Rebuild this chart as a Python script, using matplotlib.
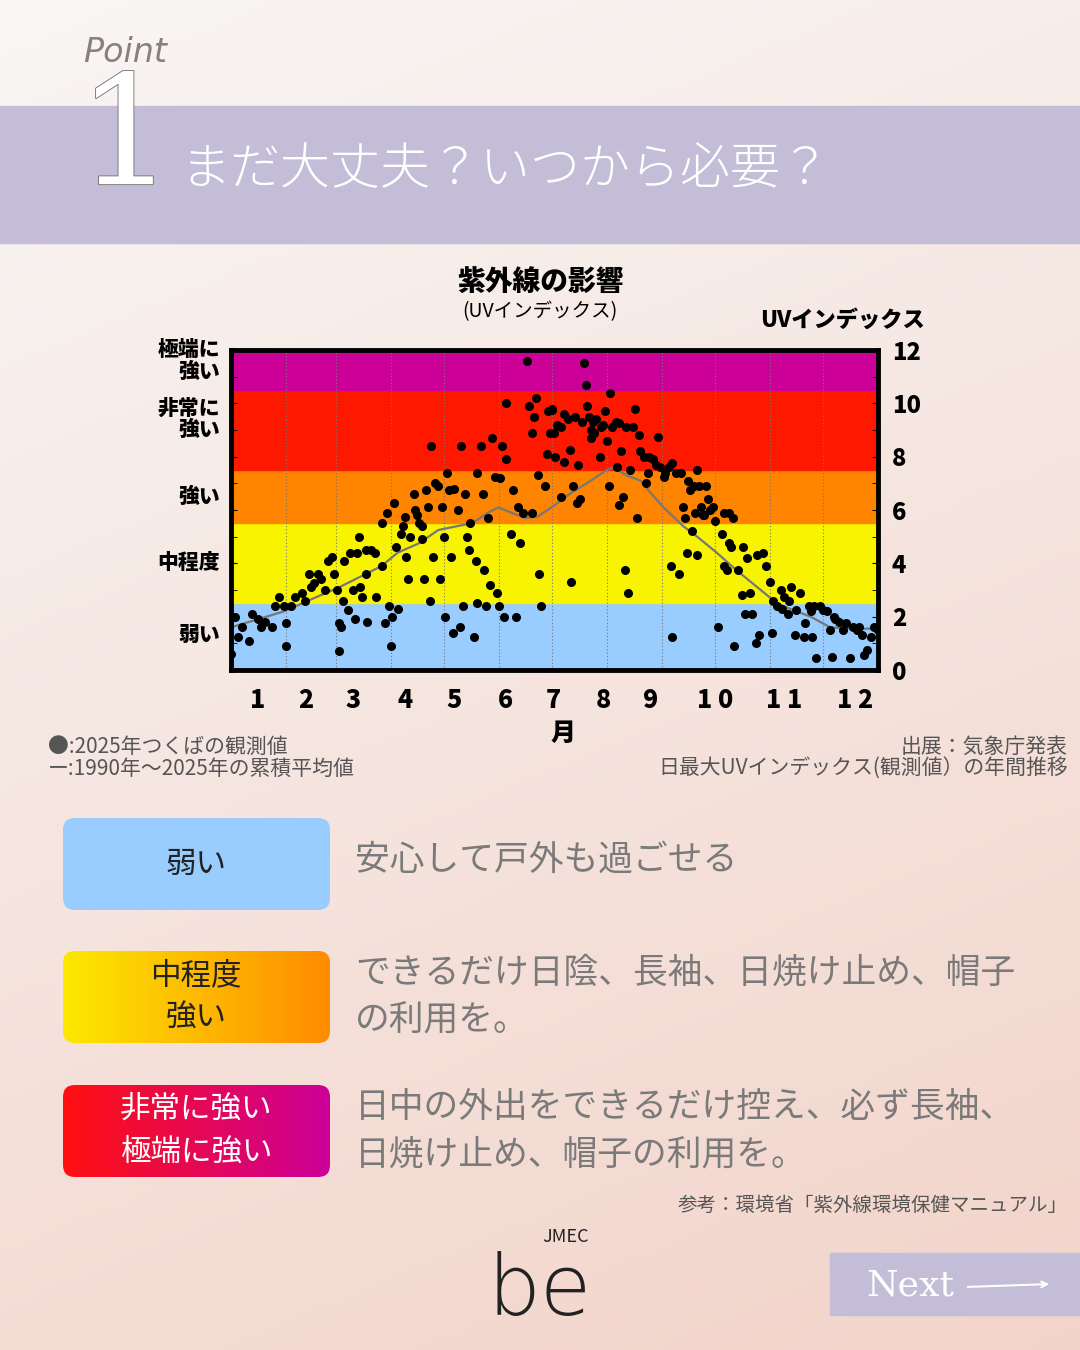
import numpy as np
import matplotlib
matplotlib.use('Agg')
import matplotlib.pyplot as plt
import matplotlib.patheffects as pe
from matplotlib.patches import FancyBboxPatch, Rectangle

plt.rcParams['font.family'] = ['Noto Sans CJK JP', 'DejaVu Sans']

# daily max UV index 2025 (Tsukuba), day of year / value
obs_day = [0, 2, 4, 10, 6, 12, 15, 19, 23, 17, 25, 27, 30, 31, 31, 34, 36, 40, 42, 44, 45, 47, 49, 51, 53,
           55, 57, 58, 60, 61, 61, 62, 63, 64, 66, 67, 69, 70, 71, 72, 73, 74, 76, 76, 77, 79, 81, 82, 85, 85,
           87, 88, 89, 90, 91, 92, 93, 94, 96, 97, 98, 99, 100, 101, 103, 104, 105, 106, 108, 108, 109, 110,
           111, 112, 113, 114, 115, 117, 118, 119, 120, 121, 122, 123, 124, 125, 126, 128, 129, 130, 131, 132,
           133, 134, 135, 137, 138, 139, 139, 141, 142, 143, 144, 145, 146, 147, 149, 150, 151, 152, 153, 154,
           155, 155, 158, 159, 161, 162, 163, 165, 167, 168, 170, 170, 171, 172, 173, 174, 175, 177, 178, 179,
           180, 181,
           181, 182, 183, 184, 186, 186, 188, 188, 190, 191, 192, 193, 194, 195, 196, 197, 198, 199, 200, 201,
           202, 203, 203, 204, 205, 206, 208, 209, 210, 211, 212, 213, 214, 215, 217, 218, 219, 219, 220, 221,
           222, 223, 224, 225, 227, 228, 229, 230, 231, 233, 234, 235, 236, 238, 240, 241, 242, 244, 245, 247,
           248, 249, 249, 251, 253, 254, 255, 256, 257, 258, 259, 260, 261, 262, 263, 263, 264, 265, 266, 267,
           268, 269, 270, 272, 273, 275, 277, 278, 278, 280, 281, 281, 282, 283, 284, 286, 288, 289, 290, 291,
           293, 294, 296, 297, 298, 300, 302, 304, 305, 306, 308, 310, 311, 312, 314, 315, 316, 318, 319, 321,
           323, 324, 326, 327, 328, 329, 330, 332, 334, 336, 338, 339, 340, 341, 343, 345, 347, 349, 351, 353,
           354, 356, 357, 359, 361, 363, 365]
obs_uv = [0.6, 2.0, 1.25, 1.1, 1.6, 2.1, 1.9, 1.8, 1.6, 1.6, 2.4, 2.75, 2.4, 1.75, 0.9, 2.4, 2.75, 2.9, 2.6, 3.6,
          3.1, 3.25, 3.6, 3.4, 3.0, 4.1, 4.25, 3.6, 3.0, 0.7, 1.75, 1.6, 2.6, 4.1, 2.25, 4.4, 3.0, 1.9, 4.4, 5.0,
          3.1, 2.75, 3.6, 4.5, 1.8, 4.5, 4.4, 2.75, 3.9, 5.5, 1.75, 5.9, 2.4, 0.9, 2.0, 6.25, 4.6, 2.3, 5.1, 5.4,
          5.75, 4.25, 3.4, 5.0, 6.6, 6.0, 5.8, 5.5, 4.9, 5.4, 3.4, 6.75, 6.1, 2.6, 8.4, 4.25, 7.0, 6.9, 3.4, 6.1,
          5.0, 2.0, 7.4, 6.75, 4.25, 1.4, 6.8, 6.0, 1.6, 8.4, 2.4, 6.6, 5.0, 4.5, 5.5, 1.25, 4.1, 2.5, 7.4, 8.4,
          6.6, 3.75, 2.4, 5.7, 3.2, 8.7, 7.25, 2.9, 2.4, 7.2, 8.4, 2.0, 10.0, 7.9, 5.1, 6.75, 2.0, 6.1, 4.75, 5.9,
          11.6, 9.9, 8.9, 5.9, 9.5, 10.2, 7.3, 3.6, 2.4, 6.9, 8.1, 9.7, 8.9, 9.75,
          9.8, 8.9, 8.0, 9.2, 6.5, 9.1, 9.6, 7.8, 9.4, 8.25, 3.3, 6.9, 9.5, 6.25, 7.7, 6.4, 9.3, 11.5, 10.7, 9.9,
          9.5, 8.7, 9.0, 9.3, 8.9, 9.4, 8.0, 9.1, 9.2, 9.7, 8.6, 6.9, 10.4, 9.1, 9.3, 7.6, 9.25, 6.2, 8.2, 6.5,
          3.75, 9.1, 2.9, 7.5, 9.1, 9.8, 5.7, 8.8, 8.2, 8.0, 7.0, 7.4, 8.0, 7.9, 7.7, 8.75, 7.6, 7.25, 7.4, 7.6,
          3.9, 1.25, 7.75, 7.4, 3.6, 7.4, 6.1, 5.7, 4.4, 7.1, 6.75, 5.2, 6.9, 5.9, 4.3, 7.5, 6.9, 6.1, 5.8, 5.8,
          6.9, 6.4, 6.0, 6.1, 5.6, 1.6, 5.1, 5.9, 3.9, 3.75, 4.75, 5.9, 4.6, 5.7, 0.9, 3.75, 2.8, 4.6, 2.1, 4.2,
          2.9, 2.1, 1.0, 4.3, 1.3, 4.4, 3.9, 3.3, 1.4, 2.6, 2.4, 3.0, 2.3, 2.75, 2.1, 2.6, 3.1, 1.3, 2.25, 2.9,
          1.25, 1.75, 2.4, 2.2, 1.25, 2.4, 0.45, 2.4, 2.25, 2.2, 1.5, 0.5, 2.0, 1.9, 1.8, 1.5, 1.75, 0.45, 1.6, 1.5,
          1.6, 1.3, 0.55, 0.75, 1.25, 1.6, 1.5]

# cumulative mean 1990-2025
mean_day = [0, 15, 30, 47, 61, 76, 85, 94, 106, 117, 128, 136, 145, 151, 158, 166, 173, 183, 191, 203, 212, 216,
            223, 231, 236, 244, 255, 263, 274, 285, 297, 308, 315, 327, 338, 349, 365]
mean_uv = [1.6, 1.9, 2.2, 2.7, 3.1, 3.6, 3.9, 4.4, 4.75, 5.25, 5.4, 5.5, 5.9, 6.1, 5.9, 5.7, 5.75, 6.2, 6.6, 7.1,
           7.5, 7.6, 7.3, 7.1, 6.7, 6.1, 5.4, 5.0, 4.4, 3.75, 3.1, 2.5, 2.3, 2.0, 1.6, 1.55, 1.55]

band_edges = [0, 2.5, 5.5, 7.5, 10.5, 12]
band_colors = ['#99ccff', '#f8f400', '#ff8400', '#ff1800', '#cc0099']
band_names = ['弱い', '中程度', '強い', '非常に\n強い', '極端に\n強い']
band_label_y = [1.3, 4.0, 6.5, 9.4, 11.6]
month_pos = [15, 42, 69, 98, 126, 155, 182, 210, 237, 273, 312, 352]
month_labels = ['1', '2', '3', '4', '5', '6', '7', '8', '9', '1 0', '1 1', '1 2']
month_bounds = [31, 59, 90, 120, 151, 181, 212, 243, 273, 304, 334]

W, H = 1080, 1350
fig = plt.figure(figsize=(10.8, 13.5), dpi=100)

bg = fig.add_axes([0, 0, 1, 1])
bg.set_xlim(0, W)
bg.set_ylim(H, 0)
bg.axis('off')
yy, xx = np.mgrid[0:1:200j, 0:1:160j]
t = np.clip(0.75 * yy + 0.25 * xx, 0, 1)
top = np.array([0.975, 0.965, 0.96])
bot = np.array([0.95, 0.83, 0.79])
grad = top[None, None, :] * (1 - t[..., None]) + bot[None, None, :] * t[..., None]
bg.imshow(grad, extent=[0, W, H, 0], aspect='auto', zorder=0)

# header
bg.add_patch(Rectangle((0, 106), W, 137, color='#c3bdd7', zorder=1))
bg.text(83, 52, 'Point', fontsize=24, style='italic', color='#8a7f7a', va='center', family='DejaVu Sans',
        zorder=3)
bg.text(126, 142, '1', fontsize=110, color='white', va='center', ha='center', family='DejaVu Serif',
        zorder=3, path_effects=[pe.withStroke(linewidth=1.2, foreground='#6f6a6a')])
bg.text(180, 170, 'まだ大丈夫？いつから必要？', fontsize=36, color='white', va='center', zorder=3,
        fontweight='light')

# chart
ax = fig.add_axes([231 / W, 1 - 670 / H, 647 / W, 320 / H])
for i, c in enumerate(band_colors):
    ax.axhspan(band_edges[i], band_edges[i + 1], color=c, zorder=0)
for b in month_bounds:
    ax.axvline(b, color='#777777', lw=0.8, ls=(0, (1, 2)), zorder=1)
ax.plot(mean_day, mean_uv, color='#777777', lw=1.6, zorder=2)
ax.scatter(obs_day, obs_uv, s=30, color='black', zorder=3)
ax.set_xlim(0, 365)
ax.set_ylim(0, 12)
for s in ax.spines.values():
    s.set_linewidth(3.5)
ax.yaxis.tick_right()
ax.set_yticks(range(0, 13, 2))
ax.set_yticks(range(0, 13), minor=True)
ax.tick_params(axis='y', which='both', direction='in', left=True, right=True, labelsize=17, pad=10, length=4)
for lbl in ax.get_yticklabels():
    lbl.set_fontweight('heavy')
ax.set_xticks(month_pos)
ax.set_xticklabels(month_labels, fontsize=18, fontweight='heavy')
ax.tick_params(axis='x', length=0, pad=12)
for name, y in zip(band_names, band_label_y):
    ax.text(-0.017, y, name, transform=ax.get_yaxis_transform(), ha='right', va='center',
            fontsize=15, fontweight='heavy', linespacing=1.1)

bg.text(540, 283, '紫外線の影響', fontsize=20, fontweight='heavy', ha='center', va='center', zorder=3)
bg.text(540, 312, '(UVインデックス)', fontsize=14, ha='center', va='center', zorder=3)
bg.text(842, 320, 'UVインデックス', fontsize=16, fontweight='heavy', ha='center', va='center', zorder=3)
bg.text(563, 733, '月', fontsize=18, fontweight='heavy', ha='center', va='center', zorder=3)

note_c = '#555555'
bg.text(48, 747, '●:2025年つくばの観測値', fontsize=15, color=note_c, va='center', zorder=3)
bg.text(48, 769, 'ー:1990年～2025年の累積平均値', fontsize=15, color=note_c, va='center', zorder=3)
bg.text(1068, 747, '出展：気象庁発表', fontsize=15, color=note_c, va='center', ha='right', zorder=3)
bg.text(1068, 769, '日最大UVインデックス(観測値）の年間推移', fontsize=15, color=note_c, va='center', ha='right',
        zorder=3)

# legend boxes
def grad_box(y0, c1, c2):
    patch = FancyBboxPatch((63, y0), 267, 92, boxstyle='round,pad=0,rounding_size=12',
                           facecolor='none', edgecolor='none', zorder=2)
    bg.add_patch(patch)
    c1 = np.array(matplotlib.colors.to_rgb(c1))
    c2 = np.array(matplotlib.colors.to_rgb(c2))
    s = np.linspace(0, 1, 100)[None, :, None]
    img = c1 * (1 - s) + c2 * s
    im = bg.imshow(img, extent=[63, 330, y0 + 92, y0], aspect='auto', zorder=2)
    im.set_clip_path(patch)

grad_box(818, '#99ccff', '#99ccff')
grad_box(951, '#fbe800', '#ff8c00')
grad_box(1085, '#ff1010', '#cc0099')
bg.text(196, 864, '弱い', fontsize=22, ha='center', va='center', zorder=3, color='#222222')
bg.text(196, 997, '中程度\n強い', fontsize=22, ha='center', va='center', zorder=3, color='#222222', linespacing=1.45)
bg.text(196, 1131, '非常に強い\n極端に強い', fontsize=22, ha='center', va='center', zorder=3, color='white',
        linespacing=1.45)

desc_c = '#7a7a7a'
bg.text(355, 860, '安心して戸外も過ごせる', fontsize=25, color=desc_c, va='center', zorder=3)
bg.text(355, 997, 'できるだけ日陰、長袖、日焼け止め、帽子\nの利用を。', fontsize=25, color=desc_c,
        va='center', zorder=3, linespacing=1.45)
bg.text(355, 1131, '日中の外出をできるだけ控え、必ず長袖、\n日焼け止め、帽子の利用を。', fontsize=25, color=desc_c,
        va='center', zorder=3, linespacing=1.45)
bg.text(1068, 1205, '参考：環境省「紫外線環境保健マニュアル」', fontsize=14, color=note_c, ha='right', va='center',
        zorder=3)

# logo
bg.text(566, 1237, 'JMEC', fontsize=13, color='#222222', ha='center', va='center', zorder=3)
bg.text(540, 1292, 'be', fontsize=60, color='#222222', ha='center', va='center', zorder=3,
        family='DejaVu Sans', fontweight='light')

# next button
bg.add_patch(Rectangle((830, 1253), 250, 62, color='#c3bdd7', zorder=2))
bg.text(910, 1285, 'Next', fontsize=26, color='white', ha='center', va='center', family='DejaVu Serif', zorder=3)
bg.annotate('', xy=(1052, 1284), xytext=(965, 1287), zorder=3,
            arrowprops=dict(arrowstyle='->', color='white', lw=1.5))

fig.savefig('out.png', dpi=100)
